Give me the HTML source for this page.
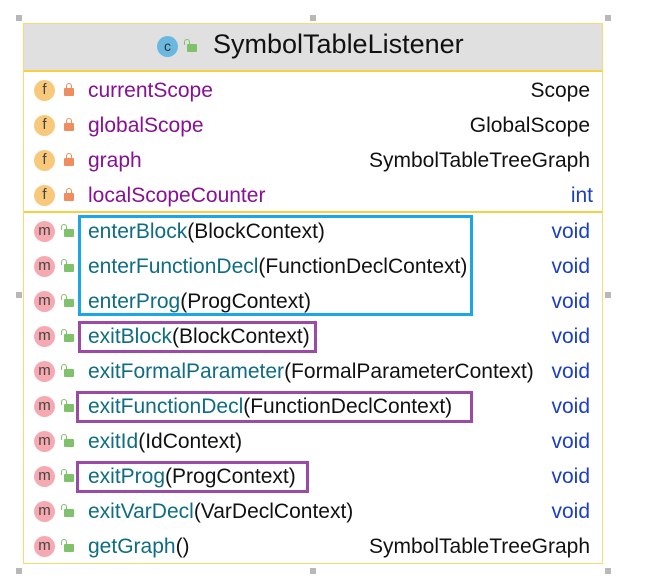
<!DOCTYPE html><html><head><style>
body{margin:0;background:#fff;width:656px;height:585px;position:relative;font-family:"Liberation Sans",sans-serif;overflow:hidden}
.a{position:absolute}
.h{position:absolute;width:6px;height:6px;background:#b8b8b8}
.row{position:absolute;left:0;width:656px;height:35px;font-size:21px;line-height:35px}
.ic{position:absolute;left:34px;top:7px;width:21px;height:21px;border-radius:50%;font-size:15px;line-height:20px;text-align:center;color:#444}
.f{background:#f8c97a}.m{background:#f5a9b0}
.lk{position:absolute;left:64px;top:15px;width:10px;height:8px;border-radius:1px}
.lk.r{background:#f08d5e}.lk.g{background:#7fc26b}
.lk.r:before{content:"";position:absolute;left:2px;top:-5px;width:4px;height:5px;border:1px solid #f08d5e;border-bottom:none;border-radius:3px 3px 0 0}
.lk.g:before{content:"";position:absolute;left:-3px;top:-5px;width:4px;height:5px;border:1px solid #7fc26b;border-bottom:none;border-radius:3px 3px 0 0}
.n{position:absolute;left:88px;white-space:nowrap}
.fn{color:#871094}.mn{color:#0f6c82}.p{color:#111}
.t{position:absolute;right:66px;color:#111}.v{color:#1b3fc2}
.box{position:absolute;border:3px solid;box-sizing:border-box}
</style></head><body>
<div class="h" style="left:16px;top:15px"></div><div class="h" style="left:310px;top:15px"></div><div class="h" style="left:605px;top:15px"></div>
<div class="h" style="left:16px;top:292px"></div><div class="h" style="left:605px;top:292px"></div>
<div class="h" style="left:16px;top:568px"></div><div class="h" style="left:310px;top:568px"></div><div class="h" style="left:605px;top:568px"></div>
<div class="a" style="left:23px;top:23px;width:578px;height:539px;border:1px solid #f7dc6f"></div>
<div class="a" style="left:24px;top:24px;width:578px;height:46px;background:#e0e0e0;border-bottom:2px solid #f5d040"></div>
<div class="a" style="left:157px;top:36px;width:21px;height:21px;border-radius:50%;background:#6ab7e0;font-size:14px;line-height:20px;text-align:center;color:#333">c</div>
<div class="lk g" style="left:187px;top:44px"></div>
<div class="a" style="left:213px;top:29px;font-size:27px;color:#111">SymbolTableListener</div>
<div class="a" style="left:24px;top:211px;width:578px;height:2px;background:#f5d040"></div>

<div class="row" style="top:73px"><div class="ic f">f</div><div class="lk r"></div><span class="n fn">currentScope</span><span class="t">Scope</span></div>
<div class="row" style="top:108px"><div class="ic f">f</div><div class="lk r"></div><span class="n fn">globalScope</span><span class="t">GlobalScope</span></div>
<div class="row" style="top:143px"><div class="ic f">f</div><div class="lk r"></div><span class="n fn">graph</span><span class="t">SymbolTableTreeGraph</span></div>
<div class="row" style="top:178px"><div class="ic f">f</div><div class="lk r"></div><span class="n fn">localScopeCounter</span><span class="t v" style="right:63px">int</span></div>

<div class="row" style="top:214px"><div class="ic m">m</div><div class="lk g"></div><span class="n"><span class="mn">enterBlock</span><span class="p">(BlockContext)</span></span><span class="t v">void</span></div>
<div class="row" style="top:249px"><div class="ic m">m</div><div class="lk g"></div><span class="n"><span class="mn">enterFunctionDecl</span><span class="p">(FunctionDeclContext)</span></span><span class="t v">void</span></div>
<div class="row" style="top:284px"><div class="ic m">m</div><div class="lk g"></div><span class="n"><span class="mn">enterProg</span><span class="p">(ProgContext)</span></span><span class="t v">void</span></div>
<div class="row" style="top:319px"><div class="ic m">m</div><div class="lk g"></div><span class="n"><span class="mn">exitBlock</span><span class="p">(BlockContext)</span></span><span class="t v">void</span></div>
<div class="row" style="top:354px"><div class="ic m">m</div><div class="lk g"></div><span class="n"><span class="mn">exitFormalParameter</span><span class="p">(FormalParameterContext)</span></span><span class="t v">void</span></div>
<div class="row" style="top:389px"><div class="ic m">m</div><div class="lk g"></div><span class="n"><span class="mn">exitFunctionDecl</span><span class="p">(FunctionDeclContext)</span></span><span class="t v">void</span></div>
<div class="row" style="top:424px"><div class="ic m">m</div><div class="lk g"></div><span class="n"><span class="mn">exitId</span><span class="p">(IdContext)</span></span><span class="t v">void</span></div>
<div class="row" style="top:459px"><div class="ic m">m</div><div class="lk g"></div><span class="n"><span class="mn">exitProg</span><span class="p">(ProgContext)</span></span><span class="t v">void</span></div>
<div class="row" style="top:494px"><div class="ic m">m</div><div class="lk g"></div><span class="n"><span class="mn">exitVarDecl</span><span class="p">(VarDeclContext)</span></span><span class="t v">void</span></div>
<div class="row" style="top:529px"><div class="ic m">m</div><div class="lk g"></div><span class="n"><span class="mn">getGraph</span><span class="p">()</span></span><span class="t">SymbolTableTreeGraph</span></div>

<div class="box" style="left:78px;top:215px;width:395px;height:101px;border-color:#1aa7e6"></div>
<div class="box" style="left:78px;top:321px;width:239px;height:32px;border-color:#9b4aa6"></div>
<div class="box" style="left:76px;top:391px;width:397px;height:32px;border-color:#9b4aa6"></div>
<div class="box" style="left:76px;top:461px;width:233px;height:32px;border-color:#9b4aa6"></div>
</body></html>
